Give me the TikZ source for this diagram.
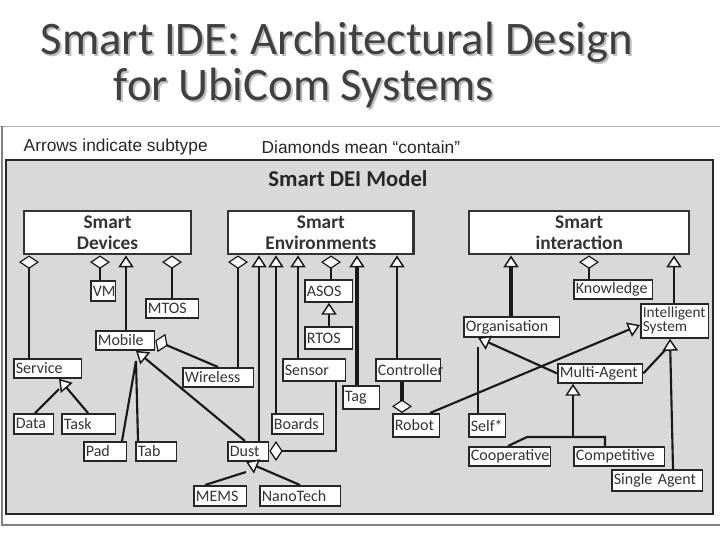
\documentclass[tikz,border=0pt]{standalone}
\usepackage{fontspec}
\setmainfont{Carlito}
\newfontfamily\arialf{Liberation Sans}
\usetikzlibrary{arrows.meta}
\newcommand\bx[6]{\pgfmathsetmacro\bw{(#4-#2)*0.75-4.8}\pgfmathsetmacro\bh{(#5-#3)*0.75}%
\node[box,anchor=north west,text width=\bw pt,minimum height=\bh pt] (#1) at (#2,#3) {#6};}
\tikzset{
 box/.style={draw=black!85,fill=white,line width=1.3pt,inner xsep=1.5pt,inner ysep=0pt,align=left,font=\fontsize{12}{12}\selectfont,text=black!80},
 bigbox/.style={draw=black!80,fill=white,line width=1.8pt,anchor=north west,align=center,font=\bfseries\fontsize{14.5}{16}\selectfont,text=black!80},
 ln/.style={line width=1.6pt,black!90},
 sub/.style={ln,-{Triangle[open,fill=white,length=9pt,width=11.5pt,line width=1.1pt]}},
 con/.style={ln,-{Diamond[open,fill=white,length=10pt,width=15pt,line width=0.9pt]}},
}
\begin{document}
\begin{tikzpicture}[x=0.75pt,y=-0.75pt]
\useasboundingbox (0,0) rectangle (720,540);
\fill[white] (0,0) rectangle (720,540);
% title
\node[text=black!25,font=\fontsize{35}{38}\selectfont,anchor=west] (t1s) at (38,44) {Smart IDE: Architectural Design};
\node[text=black!75,font=\fontsize{35}{38}\selectfont,anchor=west] (t1) at (36,42) {Smart IDE: Architectural Design};
\node[text=black!25,font=\fontsize{35}{38}\selectfont,anchor=west] (t2s) at (111,90) {for UbiCom Systems};
\node[text=black!75,font=\fontsize{35}{38}\selectfont,anchor=west] (t2) at (109,88) {for UbiCom Systems};
% frame
\draw[black!30,line width=0.6pt] (0,126) -- (720,126);
\draw[black!50,line width=1pt] (2,126) -- (2,525) -- (720,525);
\node[font=\arialf\fontsize{13}{14}\selectfont,anchor=west,text=black!85] (leg1) at (19,147) {Arrows indicate subtype};
\node[font=\arialf\fontsize{13}{14}\selectfont,anchor=west,text=black!85] (leg2) at (257,147) {Diamonds mean “contain”};
\draw[fill=black!15,draw=black!85,line width=1pt] (6,160) rectangle (713,514);
\node[font=\bfseries\fontsize{17}{19}\selectfont,text=black!85] (title) at (348,179) {Smart DEI Model};
% big boxes
\node[bigbox,minimum width=125pt,minimum height=31pt] (SD) at (23,210) {Smart\\Devices};
\node[bigbox,minimum width=139pt,minimum height=31pt] (SE) at (227,210) {Smart\\Environments};
\node[bigbox,minimum width=165pt,minimum height=31pt] (SI) at (468,210) {Smart\\interaction};
% small boxes
\bx{VM}{90}{280}{117}{300}{VM}
\bx{MTOS}{145}{298}{200}{317}{MTOS}
\bx{Mobile}{95}{330}{156}{349}{Mobile}
\bx{Service}{13}{358}{83}{377}{Service}
\bx{Wireless}{182}{367}{255}{386}{Wireless}
\bx{Data}{13}{413}{55}{433}{Data}
\bx{Task}{61}{413}{117}{433}{Task}
\bx{Pad}{83}{441}{128}{460}{Pad}
\bx{Tab}{135}{441}{178}{460}{Tab}
\bx{Dust}{227}{441}{270}{460}{Dust}
\bx{MEMS}{193}{485}{248}{505}{MEMS}
\bx{Nano}{259}{485}{342}{505}{NanoTech}
\bx{Boards}{271}{413}{325}{433}{Boards}
\bx{Sensor}{282}{358}{347}{380}{Sensor}
\bx{ASOS}{304}{279}{354}{301}{ASOS}
\bx{RTOS}{304}{326}{354}{348}{RTOS}
\bx{Tag}{342}{385}{381}{408}{Tag}
\bx{Ctrl}{375}{358}{442}{380}{Controller}
\bx{Robot}{392}{413}{441}{436}{Robot}
\bx{Org}{463}{316}{561}{336}{Organisation}
\bx{Know}{573}{279}{654}{298}{Knowledge}
\bx{IS}{640}{303}{710}{337}{\fontsize{11.5}{12}\selectfont Intelligent\\[-1.5pt]System}
\bx{MA}{557}{363}{644}{382}{Multi-Agent}
\bx{Self}{468}{413}{507}{436}{Self*}
\bx{Coop}{468}{446}{552}{465}{Cooperative}
\bx{Comp}{573}{446}{666}{465}{Competitive}
\bx{Single}{611}{469}{704}{490}{Single Agent}
% Smart Devices
\draw[con] (Service.north -| 29,0) -- (SD.south -| 29,0);
\draw[con] (VM.north -| 100,0) -- (SD.south -| 100,0);
\draw[sub] (Mobile.north -| 126,0) -- (SD.south -| 126,0);
\draw[con] (MTOS.north -| 172,0) -- (SD.south -| 172,0);
\coordinate (servT) at (Service.south -| 59,0);
\draw[ln] (Data.north -| 35,0) -- (59,389);
\draw[sub] (Task.north -| 88,0) -- (servT);
\coordinate (mobT) at (Mobile.south -| 136,0);
\draw[ln] (Pad.north -| 122,0) -- (136,361);
\draw[ln] (Tab.north -| 138,0) -- (136,361);
\draw[sub] (Dust.north -| 245,0) -- (mobT);
\draw[con] (Wireless.north -| 218,0) -- (Mobile.east);
\coordinate (dustT) at (Dust.south -| 246,0);
\draw[ln] (MEMS.north -| 205,0) -- (246,472);
\draw[sub] (Nano.north -| 300,0) -- (dustT);
% Smart Environments
\draw[con] (Wireless.north -| 238,0) -- (SE.south -| 238,0);
\draw[sub] (Dust.north -| 259,0) -- (SE.south -| 259,0);
\draw[sub] (Boards.north -| 276,0) -- (SE.south -| 276,0);
\draw[sub] (Sensor.north -| 298,0) -- (SE.south -| 298,0);
\draw[con] (ASOS.north -| 331,0) -- (SE.south -| 331,0);
\draw[sub] (RTOS.north -| 329,0) -- (ASOS.south -| 329,0);
\draw[sub,line width=2.4pt] (Tag.north -| 357,0) -- (SE.south -| 357,0);
\draw[sub] (Ctrl.north -| 397,0) -- (SE.south -| 397,0);
\draw[con] (Sensor.south -| 336,0) |- (Dust.east |- 0,451);
\draw[con,line width=2.4pt] (Ctrl.south -| 402,0) -- (Robot.north -| 402,0);
\draw[sub] (Robot.north -| 430,0) -- (IS.west |- 0,325);
% Smart interaction
\draw[sub,line width=2.4pt] (Org.north -| 511,0) -- (SI.south -| 511,0);
\draw[con] (Know.north -| 589,0) -- (SI.south -| 589,0);
\draw[sub] (IS.north -| 674,0) -- (SI.south -| 674,0);
\coordinate (orgT) at (Org.south -| 478,0);
\draw[ln] (Self.north -| 478,0) -- (478,347);
\draw[sub] (MA.west) -- (orgT);
\coordinate (isT) at (IS.south -| 670,0);
\draw[ln] (MA.east) -- (668,347);
\draw[sub] (Single.north -| 673,0) -- (isT);
\draw[ln] (Coop.north -| 508,0) -- (527,437) -- (605,437) -- (Comp.north -| 605,0);
\draw[sub] (573,437) -- (MA.south -| 573,0);
\end{tikzpicture}
\end{document}
